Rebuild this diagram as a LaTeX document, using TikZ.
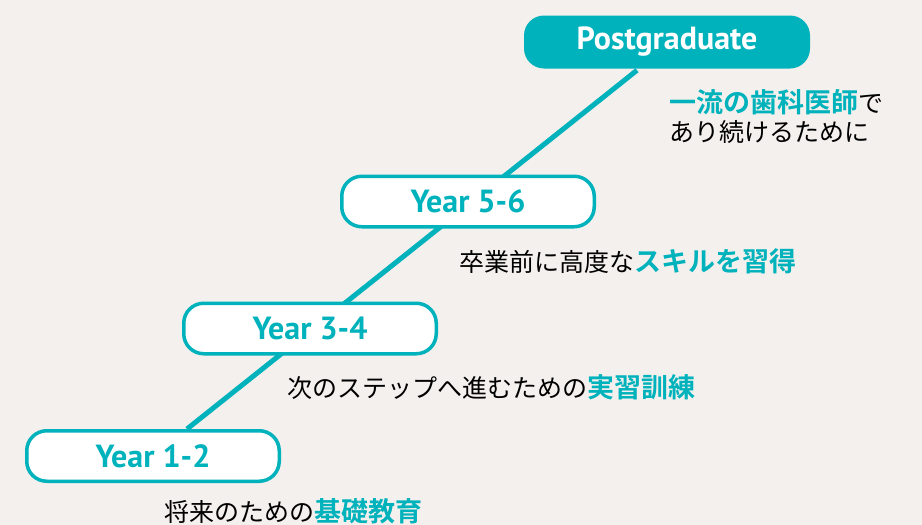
\documentclass[tikz,border=0pt]{standalone}
\usepackage{fontspec}
\setmainfont{PT Sans}
\newfontfamily\jpfont{Noto Sans CJK JP}[BoldFont={Noto Sans CJK JP Bold}]
\usetikzlibrary{positioning, backgrounds}
\definecolor{accent}{RGB}{0,178,187}
\definecolor{paper}{RGB}{244,240,237}
\tikzstyle{stage} = [rectangle, rounded corners=20pt, minimum width=252.5pt, minimum height=50.5pt, text centered, draw=accent, line width=3.5pt, fill=white, text=accent, font=\fontsize{32}{32}\selectfont\bfseries]
\tikzstyle{goal} = [stage, draw=none, fill=accent, text=white, minimum width=286pt, minimum height=53pt]
\tikzstyle{note} = [anchor=west, inner sep=0pt, align=left, font=\jpfont\fontsize{25}{29}\selectfont]
\tikzstyle{track} = [draw=accent, line width=5pt]
\newcommand{\accenttext}[1]{{\fontsize{27}{29}\selectfont\bfseries\color{accent}#1}}

\begin{document}
\begin{tikzpicture}[x=1pt, y=-1pt]
\useasboundingbox (0,0) rectangle (922,525);

% Stages
\node (year-12) [stage] at (153,456) {Year 1-2};
\node (year-34) [stage] at (310,328.5) {Year 3-4};
\node (year-56) [stage] at (468,201.5) {Year 5-6};
\node (post) [goal] at (667,42) {Postgraduate};

% Notes
\node (note-12) [note] at (164,511) {将来のための\accenttext{基礎教育}};
\node (note-34) [note] at (287,387) {次のステップへ進むための\accenttext{実習訓練}};
\node (note-56) [note] at (459,261) {卒業前に高度な\accenttext{スキルを習得}};
\node (note-post) [note] at (669,116.5) {\accenttext{一流の歯科医師}で\\あり続けるために};

% Background and track
\begin{scope}[on background layer]
\fill[paper] (0,0) rectangle (922,525);
\draw[track] ([xshift=34pt]year-12.north) -- ([xshift=-30pt]post.south);
\end{scope}

\end{tikzpicture}
\end{document}
